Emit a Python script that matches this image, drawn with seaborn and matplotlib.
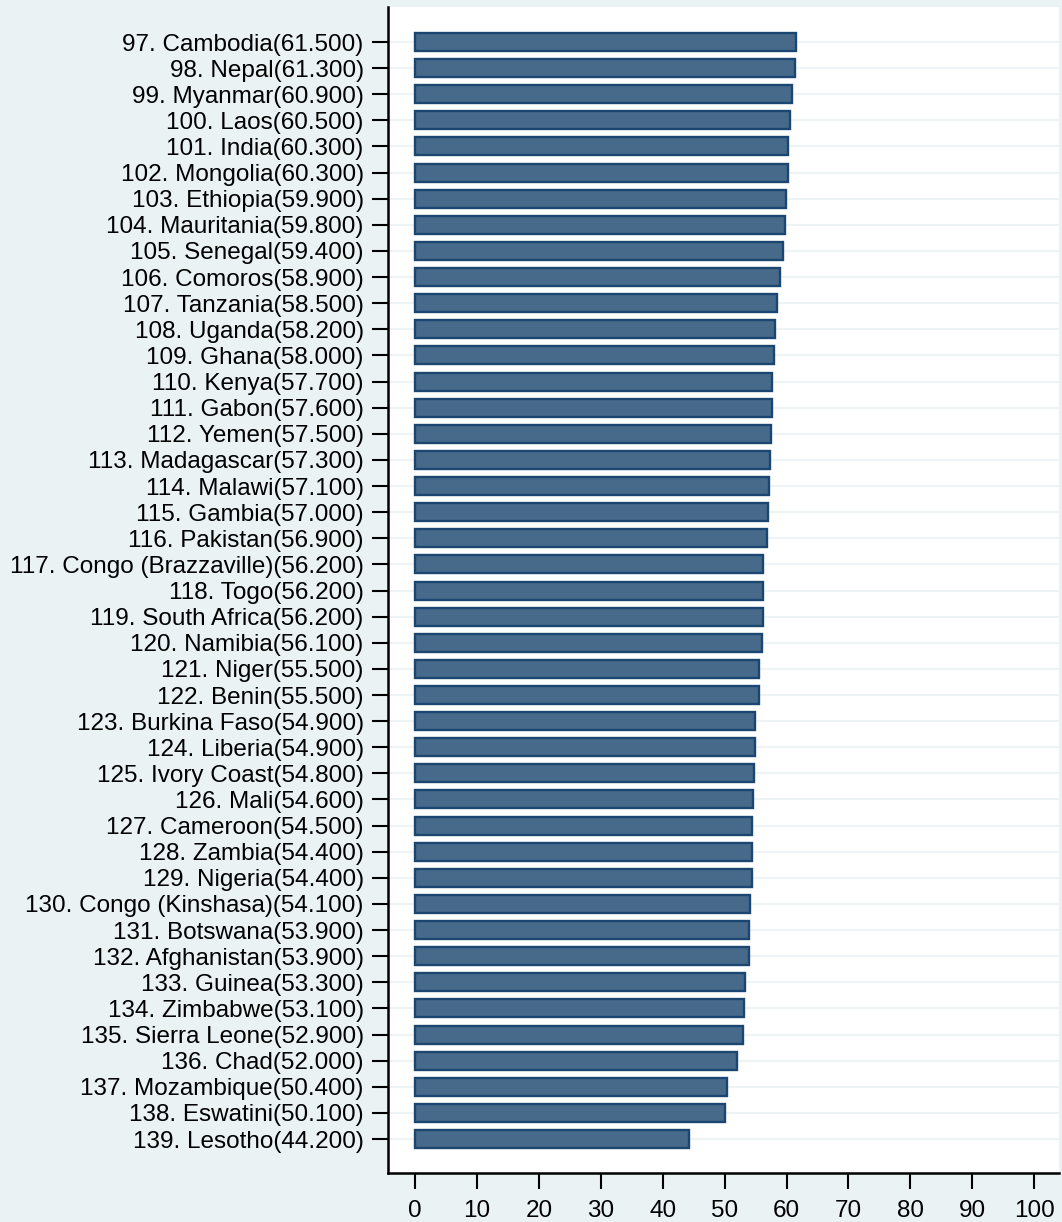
import matplotlib
matplotlib.use("Agg")
import matplotlib.pyplot as plt
import seaborn as sns
import pandas as pd

ranks = list(range(97, 140))
countries = [
    "Cambodia", "Nepal", "Myanmar", "Laos", "India", "Mongolia", "Ethiopia",
    "Mauritania", "Senegal", "Comoros", "Tanzania", "Uganda", "Ghana", "Kenya",
    "Gabon", "Yemen", "Madagascar", "Malawi", "Gambia", "Pakistan",
    "Congo (Brazzaville)", "Togo", "South Africa", "Namibia", "Niger", "Benin",
    "Burkina Faso", "Liberia", "Ivory Coast", "Mali", "Cameroon", "Zambia",
    "Nigeria", "Congo (Kinshasa)", "Botswana", "Afghanistan", "Guinea",
    "Zimbabwe", "Sierra Leone", "Chad", "Mozambique", "Eswatini", "Lesotho",
]
scores = [
    61.5, 61.3, 60.9, 60.5, 60.3, 60.3, 59.9, 59.8, 59.4, 58.9, 58.5, 58.2,
    58.0, 57.7, 57.6, 57.5, 57.3, 57.1, 57.0, 56.9, 56.2, 56.2, 56.2, 56.1,
    55.5, 55.5, 54.9, 54.9, 54.8, 54.6, 54.5, 54.4, 54.4, 54.1, 53.9, 53.9,
    53.3, 53.1, 52.9, 52.0, 50.4, 50.1, 44.2,
]
x_ticks = [0, 10, 20, 30, 40, 50, 60, 70, 80, 90, 100]

labels = [f"{r}. {c}({v:.3f})" for r, c, v in zip(ranks, countries, scores)]
df = pd.DataFrame({"label": labels, "score": scores})

sns.set_theme(style="white")
plt.rcParams["font.family"] = ["Liberation Sans", "DejaVu Sans"]

bg = "#eaf2f3"
fig = plt.figure(figsize=(10.62, 12.22), dpi=100, facecolor=bg)
ax = fig.add_axes([388 / 1062, 1 - 1173 / 1222, (1059 - 388) / 1062, (1173 - 7) / 1222])
ax.set_facecolor("white")

sns.barplot(data=df, y="label", x="score", orient="h", ax=ax,
            color="#476a8a", saturation=1, width=0.69,
            edgecolor="#1a4671", linewidth=1.7, zorder=3)

n = len(labels)
ax.set_ylim(n - 1 + 1.3, -1.34)
ax.set_xlim(-4.36, 104.0)

# faint horizontal grid lines at each category
for i in range(n):
    ax.axhline(i, color="#eef4f5", linewidth=1.5, zorder=1)

ax.set_xticks(x_ticks)
ax.set_xticklabels([str(t) for t in x_ticks])
ax.set_xlabel("")
ax.set_ylabel("")
ax.tick_params(axis="both", which="major", labelsize=17.5, colors="black",
               length=11.5, width=1.5, direction="out", left=True, bottom=True)
ax.tick_params(axis="y", pad=6)
ax.tick_params(axis="x", pad=8)

for side in ["top", "right"]:
    ax.spines[side].set_visible(False)
for side in ["left", "bottom"]:
    ax.spines[side].set_visible(True)
    ax.spines[side].set_color("black")
    ax.spines[side].set_linewidth(1.8)
ax.grid(False)

fig.savefig("out.png", dpi=100, facecolor=bg)
